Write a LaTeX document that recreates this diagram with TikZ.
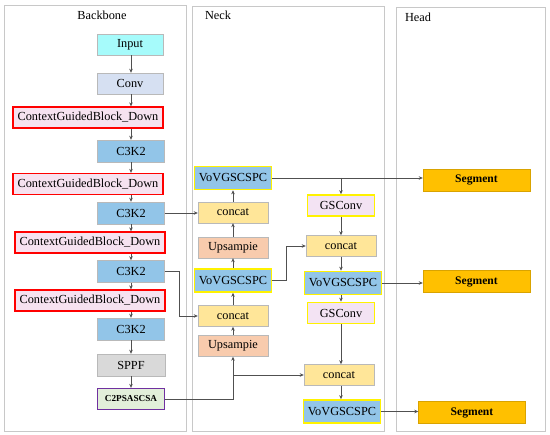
\documentclass[tikz,border=0pt]{standalone}
\usepackage{fontspec}
\setmainfont{Liberation Serif}
\usepackage{xcolor}
\usepackage{tikz}
\usetikzlibrary{positioning,arrows.meta,calc}
\definecolor{incyan}{HTML}{A6FBFB}
\definecolor{convblue}{HTML}{D6E0F2}
\definecolor{cgpink}{HTML}{F6E2F0}
\definecolor{c3blue}{HTML}{92C5E8}
\definecolor{sppfgray}{HTML}{D9D9D9}
\definecolor{c2green}{HTML}{E2EFDA}
\definecolor{c2purple}{HTML}{7030A0}
\definecolor{catyellow}{HTML}{FFE699}
\definecolor{upsalmon}{HTML}{F8CBAD}
\definecolor{gspink}{HTML}{F3E3F3}
\definecolor{segorange}{HTML}{FFC000}
\definecolor{panelgray}{HTML}{C8C8C8}
\definecolor{lnk}{HTML}{505050}
\tikzset{
  blk/.style={rectangle,draw=gray!55,minimum height=21pt,inner sep=1pt,
    font=\fontsize{12.3}{14}\selectfont},
  inbox/.style={blk,fill=incyan,minimum width=66pt},
  convbox/.style={blk,fill=convblue,minimum width=66pt},
  cgbox/.style={blk,fill=cgpink,draw=red,line width=1.3pt,minimum width=150pt},
  c3box/.style={blk,fill=c3blue,minimum width=67pt,minimum height=22pt},
  sppfbox/.style={blk,fill=sppfgray,minimum width=68pt,minimum height=22pt},
  c2pbox/.style={blk,fill=c2green,draw=c2purple,line width=1.3pt,minimum width=67pt,
    minimum height=21pt,font=\fontsize{9.2}{11}\selectfont\bfseries},
  vovbox/.style={blk,fill=c3blue,draw=yellow,line width=1.6pt,minimum width=77pt,minimum height=23pt},
  catbox/.style={blk,fill=catyellow,minimum width=70pt},
  upbox/.style={blk,fill=upsalmon,minimum width=70pt},
  gsbox/.style={blk,fill=gspink,draw=yellow,line width=1.6pt,minimum width=67pt},
  segbox/.style={blk,fill=segorange,draw=segorange!85!black,minimum width=107pt,minimum height=22pt,
    font=\fontsize{11.6}{14}\selectfont\bfseries},
  panel/.style={draw=panelgray,line width=0.7pt},
  ttl/.style={font=\fontsize{12.3}{14}\selectfont,inner sep=0pt},
  fl/.style={-{Stealth[length=4pt,width=3.5pt]},draw=lnk,line width=0.6pt},
}
\begin{document}
\begin{tikzpicture}[x=1pt,y=-1pt]
  \useasboundingbox (0,0) rectangle (550,435);
  % panels
  \draw[panel] (4,5) rectangle (186,431);
  \draw[panel] (192,6) rectangle (384,431);
  \draw[panel] (396,7) rectangle (545,431);
  \node[ttl] (tbb) at (102,15) {Backbone};
  \node[ttl] (tnk) at (218,15) {Neck};
  \node[ttl] (thd) at (418,17) {Head};

  % backbone
  \coordinate (ax) at (131,0);
  \node[inbox]   (in)   at (130,44.5) {Input};
  \node[convbox] (conv) at (130,83.5) {Conv};
  \node[cgbox]   (cg1)  at (88,117.5) {ContextGuidedBlock\_Down};
  \node[c3box]   (c1)   at (131,151)  {C3K2};
  \node[cgbox]   (cg2)  at (88,184)   {ContextGuidedBlock\_Down};
  \node[c3box]   (c2)   at (131,213)  {C3K2};
  \node[cgbox]   (cg3)  at (90,242.5) {ContextGuidedBlock\_Down};
  \node[c3box]   (c3)   at (131,271.5) {C3K2};
  \node[cgbox]   (cg4)  at (90,300.5) {ContextGuidedBlock\_Down};
  \node[c3box]   (c4)   at (131,329)  {C3K2};
  \node[sppfbox] (sppf) at (131,365)  {SPPF};
  \node[c2pbox]  (c2p)  at (131,399)  {C2PSASCSA};
  \foreach \a/\b in {in/conv,conv/cg1,cg1/c1,c1/cg2,cg2/c2,c2/cg3,cg3/c3,c3/cg4,cg4/c4,c4/sppf,sppf/c2p}
    \draw[fl] (\a.south -| ax) -- (\b.north -| ax);

  % neck, left column
  \node[vovbox] (vov1) at (233,178)   {VoVGSCSPC};
  \node[catbox] (cat1) at (233,212.5) {concat};
  \node[upbox]  (up1)  at (233,247.5) {Upsampie};
  \node[vovbox] (vov2) at (233,280.5) {VoVGSCSPC};
  \node[catbox] (cat3) at (233,316)   {concat};
  \node[upbox]  (up2)  at (233,346)   {Upsampie};
  \foreach \a/\b in {up2/cat3,cat3/vov2,vov2/up1,up1/cat1,cat1/vov1}
    \draw[fl] (\a) -- (\b);

  % neck, right column
  \node[gsbox]  (gs1)  at (341,205.5) {GSConv};
  \node[catbox] (cat2) at (341,246)   {concat};
  \node[vovbox] (vov3) at (343,283)   {VoVGSCSPC};
  \node[gsbox]  (gs2)  at (341,313)   {GSConv};
  \node[catbox] (cat4) at (339,375)   {concat};
  \node[vovbox] (vov4) at (342,411.5) {VoVGSCSPC};
  \foreach \a/\b in {gs1/cat2,cat2/vov3,vov3/gs2,gs2/cat4,cat4/vov4}
    \draw[fl] (\a.south -| gs1) -- (\b.north -| gs1);

  % head
  \node[segbox] (seg1) at (476.5,180)   {Segment};
  \node[segbox] (seg2) at (476.5,281.5) {Segment};
  \node[segbox] (seg3) at (472,412.5)   {Segment};

  % cross links
  \draw[fl] (c2.east) -- (c2.east -| cat1.west);
  \draw[fl] (c3.east) -- ++(15,0) |- (cat3.west);
  \draw[fl] (c2p.east) -| (up2.south);
  \draw[fl] (up2.south |- cat4.west) -- (cat4.west);
  \draw[fl] (vov2.east) -- ++(14,0) |- (cat2.west);
  \draw[fl] (vov1.east) -- (vov1.east -| seg1.west);
  \draw[fl] (gs1.north |- vov1.east) -- (gs1.north);
  \draw[fl] (vov3.east) -- (vov3.east -| seg2.west);
  \draw[fl] (vov4.east) -- (vov4.east -| seg3.west);
\end{tikzpicture}
\end{document}
